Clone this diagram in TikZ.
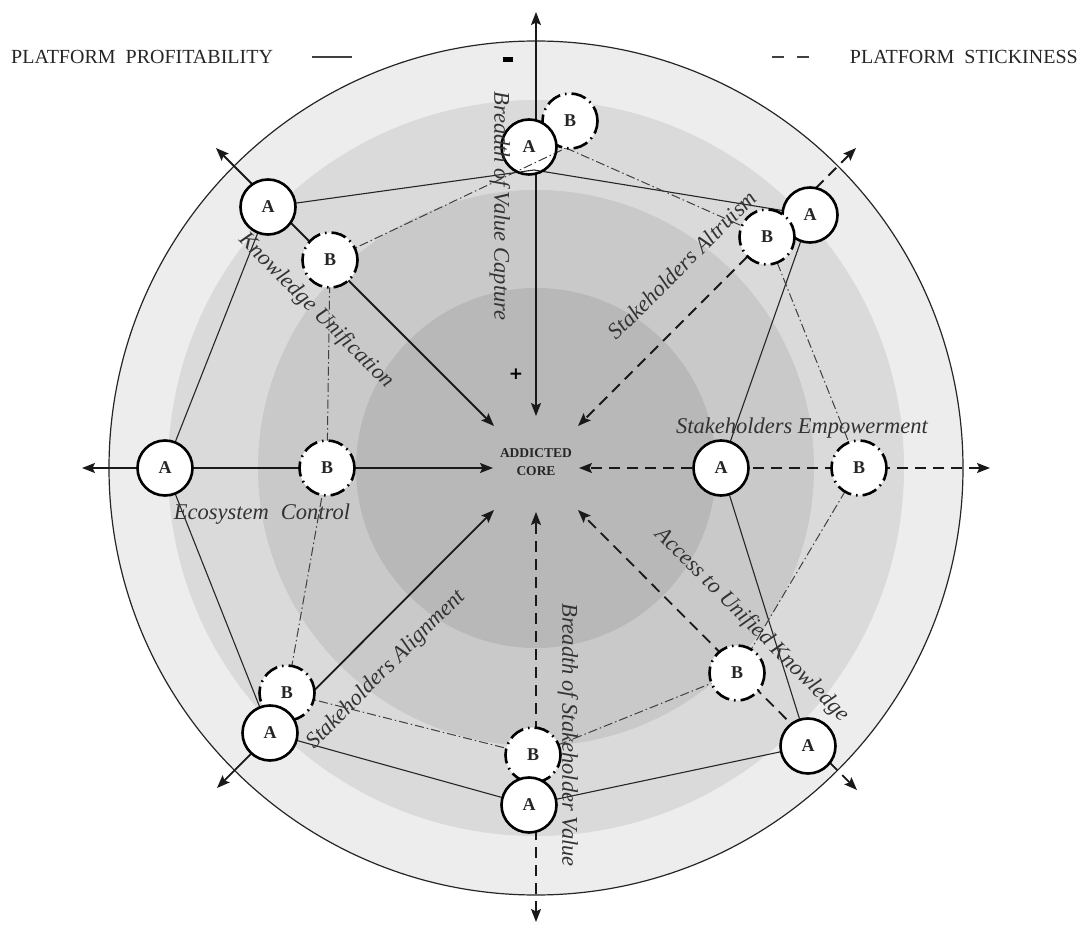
\documentclass[tikz,border=0pt]{standalone}
\usepackage{fontspec}
\setmainfont{Liberation Serif}
\newfontfamily\signfont{DejaVu Sans}
\usetikzlibrary{arrows.meta}

\definecolor{ringOuter}{HTML}{EDEDED}
\definecolor{ringTwo}{HTML}{DADADA}
\definecolor{ringThree}{HTML}{C9C9C9}
\definecolor{ringCore}{HTML}{B8B8B8}

\tikzset{
  bothtips/.style={{Stealth[length=13pt,width=10pt,inset=2.5pt]}-{Stealth[length=13pt,width=10pt,inset=2.5pt]}},
  axisline/.style={line width=1.8pt, black!90},
  dashaxis/.style={axisline, dash pattern=on 11pt off 7pt},
  acirc/.style={circle, draw=black, line width=2.6pt, fill=white, minimum size=55pt,
    inner sep=0pt, font=\fontsize{18}{18}\selectfont\bfseries, text=black!85},
  bcirc/.style={acirc, dash pattern=on 15pt off 5pt on 1.6pt off 5pt},
  polyA/.style={line width=1.1pt, black!85},
  polyB/.style={line width=1pt, black!75, dash pattern=on 9pt off 3pt on 1.5pt off 3pt},
  lbl/.style={font=\fontsize{22.5}{27}\selectfont\itshape, text=black!80, inner sep=0pt},
  legendtext/.style={font=\fontsize{20}{24}\selectfont, text=black!85, inner sep=0pt},
}

\begin{document}
\begin{tikzpicture}[x=1pt,y=-1pt]
\useasboundingbox (0,0) rectangle (1085,925);
\fill[white] (0,0) rectangle (1085,925);

% concentric zones
\coordinate (C) at (536,468);
\fill[ringOuter] (C) circle[radius=427pt];
\draw[line width=1.2pt, black!85] (C) circle[radius=427pt];
\fill[ringTwo] (C) circle[radius=368pt];
\fill[ringThree] (C) circle[radius=278pt];
\fill[ringCore] (C) circle[radius=180pt];

% positions of the profile points
\coordinate (tAp) at (529,147);  \coordinate (tBp) at (570,121);
\coordinate (urAp) at (810,215); \coordinate (urBp) at (767,237);
\coordinate (rAp) at (721,468);  \coordinate (rBp) at (859,468);
\coordinate (drAp) at (808,746); \coordinate (drBp) at (737,673);
\coordinate (dAp) at (529,805);  \coordinate (dBp) at (533,755);
\coordinate (dlAp) at (270,733); \coordinate (dlBp) at (287,693);
\coordinate (lAp) at (165,468);  \coordinate (lBp) at (327,468);
\coordinate (ulAp) at (268,207); \coordinate (ulBp) at (330,260);
% top vertices sit on the lower rims of the top circles
\coordinate (tAv) at (534,170);  \coordinate (tBv) at (566,148);

% profile polygons
\draw[polyA] (tAv) -- (urAp) -- (rAp) -- (drAp) -- (dAp) -- (dlAp) -- (lAp) -- (ulAp) -- cycle;
\draw[polyB] (tBv) -- (urBp) -- (rBp) -- (drBp) -- (dBp) -- (dlBp) -- (lBp) -- (ulBp) -- cycle;

% axis end points
\coordinate (upOut) at (536,12);   \coordinate (upIn) at (536,416);
\coordinate (dnOut) at (536,922);  \coordinate (dnIn) at (536,512);
\coordinate (lfOut) at (82,468);   \coordinate (lfIn) at (493,468);
\coordinate (rtOut) at (990,468);  \coordinate (rtIn) at (579,468);
\coordinate (ulOut) at (216,148);  \coordinate (ulIn) at (494,426);
\coordinate (urOut) at (856,148);  \coordinate (urIn) at (578,426);
\coordinate (drOut) at (857,790);  \coordinate (drIn) at (578,510);
\coordinate (dlOut) at (217,788);  \coordinate (dlIn) at (494,510);

% profitability axes (solid)
\draw[axisline, bothtips] (upOut) -- (upIn);
\draw[axisline, bothtips] (ulOut) -- (ulIn);
\draw[axisline, bothtips] (lfOut) -- (lfIn);
\draw[axisline, bothtips] (dlOut) -- (dlIn);
% stickiness axes (dashed)
\draw[dashaxis, bothtips] (urOut) -- (urIn);
\draw[dashaxis, bothtips] (rtOut) -- (rtIn);
\draw[dashaxis, bothtips] (drOut) -- (drIn);
\draw[dashaxis, bothtips] (dnOut) -- (dnIn);

% profile circles
\node[bcirc] (tB) at (tBp) {B};
\node[acirc] (tA) at (tAp) {A};
\node[acirc] (urA) at (urAp) {A};
\node[bcirc] (urB) at (urBp) {B};
\node[acirc] (rA) at (rAp) {A};
\node[bcirc] (rB) at (rBp) {B};
\node[bcirc] (drB) at (drBp) {B};
\node[acirc] (drA) at (drAp) {A};
\node[bcirc] (dB) at (dBp) {B};
\node[acirc] (dA) at (dAp) {A};
\node[bcirc] (dlB) at (dlBp) {B};
\node[acirc] (dlA) at (dlAp) {A};
\node[acirc] (lA) at (lAp) {A};
\node[bcirc] (lB) at (lBp) {B};
\node[acirc] (ulA) at (ulAp) {A};
\node[bcirc] (ulB) at (ulBp) {B};

% the profile lines run across the lower part of the top A circle
\begin{scope}
  \clip (tAp) circle[radius=26pt];
  \draw[polyA] (ulAp) -- (tAv) -- (urAp);
  \draw[polyB] (ulBp) -- (tBv);
\end{scope}

% centre
\node[font=\fontsize{13.5}{18}\selectfont\bfseries, text=black!85, align=center, inner sep=0pt]
  (core) at (536,462) {ADDICTED\\CORE};

% signs on the vertical axis
\node[fill=black, minimum width=10pt, minimum height=5pt, inner sep=0pt] (minus) at (508,60) {};
\node[font=\fontsize{17}{17}\selectfont\signfont\bfseries, inner sep=0pt] (plus) at (516,374) {+};

% axis labels
\node[lbl, rotate=-90] (lVC) at (500,206) {Breadth of Value Capture};
\node[lbl, rotate=-90] (lSV) at (568,735) {Breadth of Stakeholder Value};
\node[lbl, rotate=-45] (lKU) at (316,311) {Knowledge Unification};
\node[lbl, rotate=45] (lSA) at (682,265) {Stakeholders Altruism};
\node[lbl, rotate=45] (lAl) at (386,670) {Stakeholders Alignment};
\node[lbl, rotate=-45] (lAU) at (752,625) {Access to Unified Knowledge};
\node[lbl, anchor=base] (lSE) at (802,433) {Stakeholders Empowerment};
\node[lbl, anchor=base] (lEC) at (262,519) {Ecosystem\hspace{12pt}Control};

% legend
\node[legendtext, anchor=base west] (lgP) at (11,64) {PLATFORM\hspace{10pt}PROFITABILITY};
\coordinate (lgPa) at (312,57); \coordinate (lgPb) at (352,57);
\draw[line width=2.2pt, black!75] (lgPa) -- (lgPb);
\node[legendtext, anchor=base east] (lgS) at (1078,64) {PLATFORM\hspace{10pt}STICKINESS};
\coordinate (lgSa) at (772,57); \coordinate (lgSb) at (810,57);
\draw[line width=2.2pt, black!75, dash pattern=on 12pt off 13pt] (lgSa) -- (lgSb);
\end{tikzpicture}
\end{document}
